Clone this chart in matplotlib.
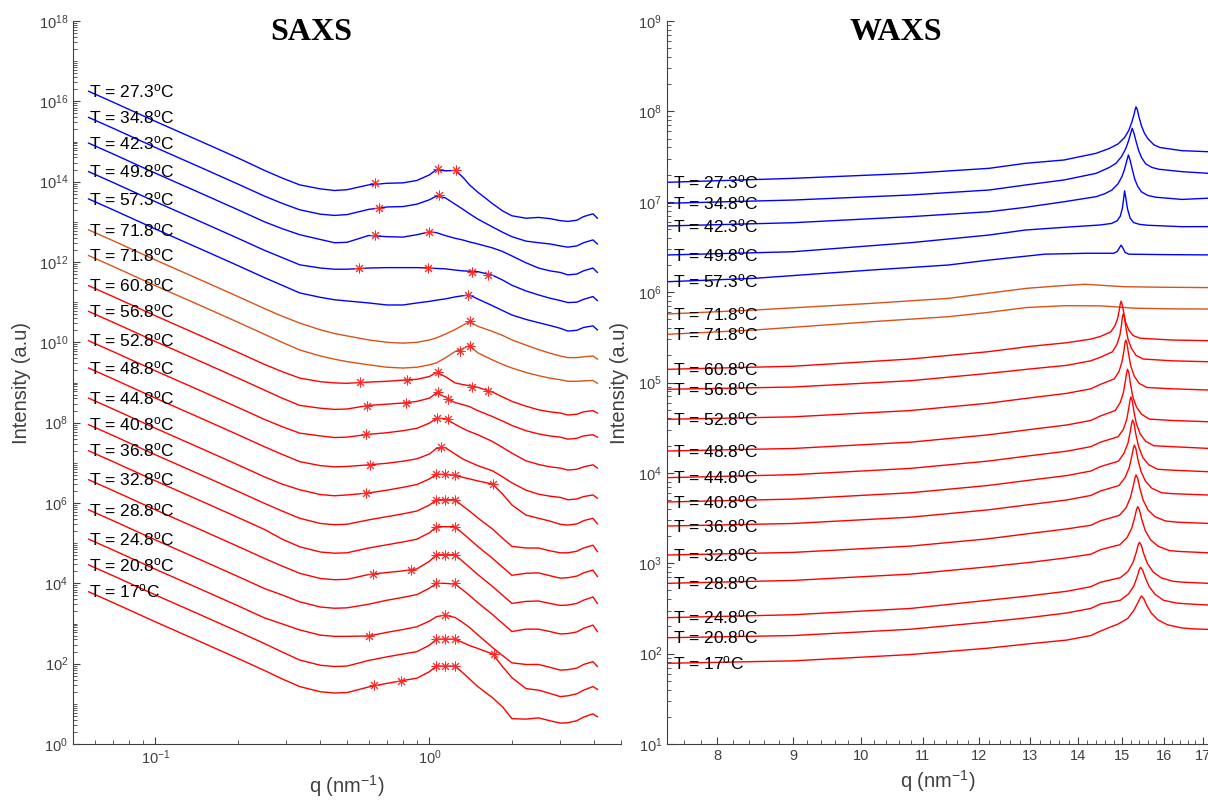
import numpy as np
import matplotlib
matplotlib.use("Agg")
import matplotlib.pyplot as plt
from matplotlib.ticker import FixedLocator, NullFormatter, LogFormatterSciNotation, FormatStrFormatter

plt.rcParams['font.family'] = ['Liberation Sans', 'DejaVu Sans']
plt.rcParams['mathtext.default'] = 'regular'
plt.rcParams['axes.unicode_minus'] = False

# ---------------- labels / colours ----------------
temps = ['27.3', '34.8', '42.3', '49.8', '57.3', '71.8', '71.8', '60.8', '56.8', '52.8',
         '48.8', '44.8', '40.8', '36.8', '32.8', '28.8', '24.8', '20.8', '17']
curve_groups = ['b'] * 5 + ['o'] * 2 + ['r'] * 12
group_colors = {'b': '#0000FF', 'o': '#D95319', 'r': '#FF0000'}

# ---------------- SAXS (log10 intensity on a shared q grid) ----------------
saxs_q = [0.057, 0.07, 0.1, 0.15, 0.2, 0.25, 0.29, 0.336, 0.4, 0.45, 0.5, 0.6, 0.7, 0.8, 0.9, 1.0,
          1.06, 1.14, 1.24, 1.32, 1.4, 1.5, 1.7, 1.85, 2.0, 2.25, 2.5, 2.75, 3.0, 3.2, 3.45, 3.65, 3.95, 4.1]
saxs_T27_3 = [16.25, 15.98, 15.50, 14.97, 14.59, 14.28, 14.09, 13.92, 13.82, 13.78, 13.80, 13.92, 13.96, 13.97, 14.03, 14.17,
              14.30, 14.27, 14.28, 14.12, 13.92, 13.74, 13.45, 13.27, 13.15, 13.09, 13.11, 13.08, 13.03, 13.01, 13.04, 13.13, 13.20, 13.09]
saxs_T34_8 = [15.60, 15.33, 14.85, 14.32, 13.94, 13.64, 13.46, 13.30, 13.19, 13.16, 13.18, 13.31, 13.37, 13.38, 13.44, 13.55,
              13.64, 13.60, 13.44, 13.32, 13.20, 13.07, 12.87, 12.74, 12.63, 12.52, 12.48, 12.45, 12.40, 12.37, 12.40, 12.48, 12.55, 12.45]
saxs_T42_3 = [14.96, 14.69, 14.21, 13.68, 13.30, 13.00, 12.83, 12.68, 12.56, 12.48, 12.49, 12.66, 12.63, 12.62, 12.68, 12.75,
              12.73, 12.66, 12.59, 12.55, 12.50, 12.45, 12.35, 12.26, 12.15, 11.98, 11.85, 11.78, 11.74, 11.68, 11.70, 11.78, 11.85, 11.74]
saxs_T49_8 = [14.25, 13.98, 13.50, 12.97, 12.59, 12.29, 12.11, 11.93, 11.85, 11.82, 11.82, 11.85, 11.86, 11.86, 11.86, 11.85,
              11.84, 11.83, 11.80, 11.78, 11.77, 11.76, 11.67, 11.55, 11.42, 11.28, 11.18, 11.10, 11.04, 10.99, 11.00, 11.07, 11.14, 11.04]
saxs_T57_3 = [13.57, 13.30, 12.82, 12.29, 11.91, 11.61, 11.42, 11.23, 11.12, 11.06, 11.03, 10.98, 10.93, 10.93, 10.98, 11.02,
              11.05, 11.08, 11.13, 11.16, 11.18, 11.08, 10.91, 10.79, 10.68, 10.57, 10.49, 10.42, 10.35, 10.28, 10.30, 10.37, 10.41, 10.31]
saxs_T71_8a = [12.80, 12.53, 12.05, 11.52, 11.14, 10.84, 10.65, 10.48, 10.31, 10.22, 10.16, 10.06, 10.00, 9.98, 10.00, 10.06,
               10.11, 10.20, 10.32, 10.42, 10.52, 10.40, 10.27, 10.17, 10.06, 9.93, 9.82, 9.73, 9.66, 9.62, 9.62, 9.64, 9.66, 9.58]
saxs_T71_8b = [12.16, 11.89, 11.41, 10.88, 10.50, 10.20, 10.00, 9.81, 9.66, 9.58, 9.52, 9.44, 9.38, 9.36, 9.38, 9.44,
               9.49, 9.61, 9.77, 9.84, 9.92, 9.74, 9.56, 9.45, 9.36, 9.25, 9.17, 9.11, 9.07, 9.03, 9.03, 9.04, 9.05, 8.98]
saxs_T60_8 = [11.41, 11.14, 10.66, 10.13, 9.75, 9.45, 9.27, 9.11, 9.02, 8.99, 8.98, 9.01, 9.03, 9.06, 9.08, 9.15,
              9.25, 9.15, 8.99, 8.95, 8.92, 8.88, 8.76, 8.64, 8.53, 8.41, 8.32, 8.27, 8.24, 8.19, 8.21, 8.27, 8.30, 8.24]
saxs_T56_8 = [10.77, 10.50, 10.02, 9.49, 9.11, 8.81, 8.61, 8.43, 8.36, 8.33, 8.34, 8.43, 8.46, 8.49, 8.53, 8.61,
              8.74, 8.64, 8.50, 8.45, 8.40, 8.30, 8.15, 8.04, 7.93, 7.80, 7.72, 7.67, 7.64, 7.59, 7.61, 7.67, 7.70, 7.64]
saxs_T52_8 = [10.04, 9.77, 9.29, 8.76, 8.38, 8.08, 7.90, 7.74, 7.67, 7.63, 7.64, 7.71, 7.75, 7.80, 7.86, 7.99,
              8.11, 8.10, 7.96, 7.86, 7.78, 7.70, 7.53, 7.38, 7.24, 7.05, 6.96, 6.90, 6.87, 6.82, 6.84, 6.90, 6.95, 6.87]
saxs_T48_8 = [9.36, 9.09, 8.61, 8.08, 7.70, 7.40, 7.21, 7.03, 6.93, 6.90, 6.91, 6.95, 6.99, 7.04, 7.10, 7.22,
              7.36, 7.38, 7.22, 7.10, 7.02, 6.93, 6.80, 6.65, 6.50, 6.32, 6.22, 6.17, 6.14, 6.08, 6.10, 6.16, 6.20, 6.12]
saxs_T44_8 = [8.61, 8.34, 7.86, 7.33, 6.95, 6.65, 6.47, 6.33, 6.21, 6.18, 6.20, 6.25, 6.32, 6.39, 6.46, 6.60,
              6.72, 6.71, 6.69, 6.64, 6.60, 6.55, 6.47, 6.22, 5.95, 5.70, 5.62, 5.55, 5.47, 5.45, 5.48, 5.56, 5.62, 5.48]
saxs_T40_8 = [7.95, 7.68, 7.20, 6.67, 6.29, 5.99, 5.80, 5.62, 5.49, 5.46, 5.47, 5.58, 5.66, 5.73, 5.80, 5.95,
              6.08, 6.08, 6.08, 5.93, 5.80, 5.63, 5.35, 5.12, 4.92, 4.88, 4.88, 4.81, 4.76, 4.76, 4.80, 4.88, 4.95, 4.79]
saxs_T36_8 = [7.30, 7.03, 6.55, 6.02, 5.64, 5.34, 5.10, 4.91, 4.78, 4.75, 4.76, 4.88, 4.96, 5.03, 5.10, 5.26,
              5.41, 5.41, 5.41, 5.25, 5.10, 4.92, 4.62, 4.40, 4.20, 4.25, 4.26, 4.19, 4.13, 4.14, 4.18, 4.26, 4.33, 4.17]
saxs_T32_8 = [6.58, 6.31, 5.83, 5.30, 4.92, 4.62, 4.43, 4.25, 4.12, 4.09, 4.10, 4.22, 4.27, 4.31, 4.36, 4.55,
              4.71, 4.71, 4.71, 4.55, 4.40, 4.22, 3.92, 3.70, 3.50, 3.55, 3.56, 3.50, 3.45, 3.46, 3.50, 3.58, 3.66, 3.50]
saxs_T28_8 = [5.83, 5.56, 5.08, 4.55, 4.17, 3.87, 3.71, 3.54, 3.41, 3.38, 3.39, 3.48, 3.58, 3.65, 3.72, 3.88,
              4.00, 4.00, 3.98, 3.84, 3.70, 3.52, 3.22, 3.00, 2.80, 2.86, 2.86, 2.80, 2.74, 2.75, 2.79, 2.88, 2.96, 2.80]
saxs_T24_8 = [5.10, 4.83, 4.35, 3.82, 3.44, 3.14, 2.99, 2.84, 2.71, 2.68, 2.68, 2.69, 2.78, 2.85, 2.92, 3.06,
              3.17, 3.21, 3.15, 3.03, 2.90, 2.72, 2.40, 2.20, 2.02, 1.98, 1.98, 1.91, 1.84, 1.85, 1.89, 1.98, 2.05, 1.93]
saxs_T20_8 = [4.46, 4.19, 3.71, 3.18, 2.80, 2.50, 2.29, 2.09, 1.96, 1.93, 1.94, 2.08, 2.17, 2.24, 2.30, 2.46,
              2.61, 2.61, 2.61, 2.53, 2.45, 2.38, 2.24, 1.92, 1.65, 1.38, 1.34, 1.26, 1.18, 1.20, 1.25, 1.34, 1.43, 1.36]
saxs_T17 = [3.79, 3.52, 3.04, 2.51, 2.13, 1.83, 1.62, 1.43, 1.30, 1.27, 1.28, 1.42, 1.51, 1.58, 1.64, 1.80,
            1.94, 1.94, 1.94, 1.78, 1.62, 1.43, 1.15, 0.92, 0.63, 0.62, 0.65, 0.58, 0.52, 0.53, 0.58, 0.67, 0.75, 0.68]
saxs_curves = [saxs_T27_3, saxs_T34_8, saxs_T42_3, saxs_T49_8, saxs_T57_3, saxs_T71_8a, saxs_T71_8b,
               saxs_T60_8, saxs_T56_8, saxs_T52_8, saxs_T48_8, saxs_T44_8, saxs_T40_8, saxs_T36_8,
               saxs_T32_8, saxs_T28_8, saxs_T24_8, saxs_T20_8, saxs_T17]

# peak markers (q, log10 I) for each SAXS curve
saxs_star_q = [[0.63, 1.074, 1.245], [0.653, 1.083], [0.635, 0.993], [0.553, 0.988, 1.43, 1.64],
               [1.38], [1.40], [1.29, 1.40], [0.557, 0.828, 1.074, 1.43, 1.64],
               [0.592, 0.822, 1.074, 1.168], [0.589, 1.065, 1.168], [0.605, 1.105],
               [0.589, 1.054, 1.142, 1.24, 1.7], [1.054, 1.142, 1.24], [1.054, 1.24],
               [0.62, 0.854, 1.054, 1.142, 1.24], [1.054, 1.24], [0.60, 1.14],
               [1.054, 1.142, 1.24, 1.72], [0.625, 0.787, 1.054, 1.142, 1.24]]
saxs_star_logI = [[13.97, 14.31, 14.28], [13.35, 13.66], [12.68, 12.75], [11.85, 11.85, 11.76, 11.67],
                  [11.19], [10.52], [9.79, 9.92], [9.01, 9.06, 9.27, 8.89, 8.78],
                  [8.42, 8.48, 8.76, 8.60], [7.71, 8.11, 8.09], [6.95, 7.40],
                  [6.24, 6.72, 6.71, 6.69, 6.47], [6.08, 6.08, 6.08], [5.41, 5.41],
                  [4.23, 4.33, 4.71, 4.71, 4.71], [4.00, 4.00], [2.69, 3.21],
                  [2.61, 2.61, 2.61, 2.23], [1.47, 1.57, 1.94, 1.94, 1.94]]

# ---------------- WAXS (q, log10 intensity per curve) ----------------
waxs_q_T27_3 = [7.4, 9.0, 10.8, 12.2, 12.9, 13.7, 14.4, 14.7, 14.9, 15.05, 15.15, 15.22, 15.27, 15.3, 15.32, 15.35, 15.39, 15.45, 15.52, 15.6, 15.75, 15.9, 16.45, 17.13]
waxs_T27_3 = [7.215, 7.259, 7.314, 7.370, 7.425, 7.462, 7.536, 7.59, 7.64, 7.71, 7.79, 7.88, 7.96, 8.02, 8.05, 8.02, 7.94, 7.84, 7.76, 7.70, 7.63, 7.60, 7.565, 7.554]
waxs_q_T34_8 = [7.4, 9.0, 10.8, 12.2, 12.9, 13.7, 14.4, 14.7, 14.85, 14.98, 15.08, 15.14, 15.19, 15.23, 15.27, 15.32, 15.38, 15.45, 15.55, 15.7, 15.87, 16.45, 17.13]
waxs_T34_8 = [6.983, 7.019, 7.075, 7.130, 7.185, 7.241, 7.314, 7.38, 7.425, 7.50, 7.59, 7.67, 7.75, 7.813, 7.76, 7.67, 7.57, 7.49, 7.42, 7.38, 7.36, 7.333, 7.315]
waxs_q_T42_3 = [7.4, 9.0, 10.8, 12.2, 12.9, 13.7, 14.4, 14.6, 14.76, 14.9, 14.99, 15.05, 15.1, 15.14, 15.18, 15.23, 15.29, 15.36, 15.45, 15.6, 15.8, 16.45, 17.13]
waxs_T42_3 = [6.732, 6.768, 6.835, 6.890, 6.938, 7.000, 7.056, 7.09, 7.13, 7.20, 7.28, 7.36, 7.45, 7.518, 7.46, 7.36, 7.25, 7.17, 7.11, 7.07, 7.05, 7.026, 7.039]
waxs_q_T49_8 = [7.4, 9.0, 10.8, 12.2, 12.9, 13.7, 14.49, 14.75, 14.88, 14.95, 15.0, 15.03, 15.05, 15.08, 15.12, 15.18, 15.26, 15.4, 15.6, 16.45, 17.13]
waxs_T49_8 = [6.411, 6.447, 6.547, 6.632, 6.687, 6.717, 6.743, 6.76, 6.79, 6.84, 6.93, 7.04, 7.12, 7.04, 6.92, 6.82, 6.77, 6.75, 6.74, 6.724, 6.725]
waxs_q_T57_3 = [7.4, 8.48, 10.17, 11.45, 12.2, 13.3, 14.2, 14.8, 14.88, 14.93, 14.97, 15.01, 15.06, 15.15, 16.0, 17.13]
waxs_T57_3 = [6.115, 6.153, 6.245, 6.30, 6.355, 6.42, 6.43, 6.43, 6.45, 6.49, 6.52, 6.49, 6.44, 6.42, 6.415, 6.412]
waxs_q_T71_8a = [7.4, 8.48, 10.17, 11.45, 12.17, 12.93, 13.56, 14.15, 15.03, 15.96, 17.13]
waxs_T71_8a = [5.758, 5.802, 5.876, 5.931, 5.987, 6.042, 6.068, 6.087, 6.060, 6.054, 6.050]
waxs_q_T71_8b = [7.4, 8.48, 10.17, 11.45, 12.17, 12.93, 13.73, 14.5, 15.3, 16.2, 17.13]
waxs_T71_8b = [5.533, 5.581, 5.673, 5.728, 5.775, 5.83, 5.850, 5.848, 5.822, 5.815, 5.813]
waxs_q_T60_8 = [7.4, 9.0, 10.8, 12.17, 13.0, 13.76, 14.28, 14.5, 14.73, 14.83, 14.89, 14.93, 14.95, 14.97, 14.99, 15.03, 15.07, 15.15, 15.25, 15.41, 16.2, 17.13]
waxs_T60_8 = [5.146, 5.18, 5.26, 5.34, 5.40, 5.44, 5.48, 5.51, 5.56, 5.63, 5.71, 5.81, 5.87, 5.90, 5.87, 5.78, 5.67, 5.58, 5.52, 5.49, 5.47, 5.463]
waxs_q_T56_8 = [7.4, 9.0, 10.8, 12.17, 13.0, 13.76, 14.28, 14.5, 14.77, 14.87, 14.94, 14.98, 15.0, 15.02, 15.05, 15.08, 15.13, 15.21, 15.32, 15.49, 16.2, 17.13]
waxs_T56_8 = [4.925, 4.95, 5.02, 5.10, 5.15, 5.19, 5.24, 5.28, 5.34, 5.42, 5.52, 5.64, 5.73, 5.758, 5.71, 5.61, 5.48, 5.38, 5.30, 5.26, 5.24, 5.23]
waxs_q_T52_8 = [7.4, 9.0, 10.8, 12.17, 13.0, 13.76, 14.28, 14.5, 14.81, 14.92, 14.99, 15.035, 15.06, 15.08, 15.107, 15.143, 15.197, 15.278, 15.395, 15.58, 16.2, 17.13]
waxs_T52_8 = [4.593, 4.62, 4.69, 4.77, 4.83, 4.88, 4.93, 4.98, 5.04, 5.12, 5.23, 5.35, 5.44, 5.47, 5.43, 5.32, 5.18, 5.07, 4.99, 4.945, 4.93, 4.917]
waxs_q_T48_8 = [7.4, 9.0, 10.8, 12.17, 13.0, 13.76, 14.28, 14.5, 14.835, 14.95, 15.025, 15.07, 15.10, 15.12, 15.15, 15.19, 15.244, 15.33, 15.45, 15.64, 16.2, 17.13]
waxs_T48_8 = [4.242, 4.27, 4.34, 4.42, 4.48, 4.53, 4.58, 4.63, 4.69, 4.78, 4.89, 5.02, 5.11, 5.146, 5.11, 4.98, 4.84, 4.73, 4.65, 4.595, 4.58, 4.566]
waxs_q_T44_8 = [7.4, 9.0, 10.8, 12.17, 13.0, 13.76, 14.28, 14.5, 14.9, 15.02, 15.1, 15.15, 15.18, 15.2, 15.23, 15.27, 15.33, 15.42, 15.55, 15.75, 16.2, 17.13]
waxs_T44_8 = [3.947, 3.98, 4.05, 4.13, 4.19, 4.24, 4.29, 4.34, 4.40, 4.48, 4.59, 4.72, 4.81, 4.84, 4.80, 4.68, 4.54, 4.43, 4.35, 4.30, 4.29, 4.271]
waxs_q_T40_8 = [7.4, 9.0, 10.8, 12.17, 13.0, 13.76, 14.28, 14.5, 14.91, 15.04, 15.13, 15.185, 15.218, 15.24, 15.273, 15.317, 15.383, 15.482, 15.625, 15.84, 16.2, 17.13]
waxs_T40_8 = [3.678, 3.71, 3.78, 3.86, 3.92, 3.97, 4.02, 4.07, 4.13, 4.22, 4.33, 4.46, 4.55, 4.585, 4.545, 4.425, 4.29, 4.17, 4.09, 4.04, 4.03, 4.013]
waxs_q_T36_8 = [7.4, 9.0, 10.8, 12.17, 13.0, 13.76, 14.28, 14.5, 14.92, 15.064, 15.16, 15.22, 15.256, 15.28, 15.316, 15.364, 15.436, 15.544, 15.70, 15.94, 16.2, 17.13]
waxs_T36_8 = [3.412, 3.44, 3.51, 3.59, 3.65, 3.70, 3.75, 3.80, 3.86, 3.95, 4.06, 4.185, 4.27, 4.308, 4.27, 4.15, 4.02, 3.91, 3.83, 3.78, 3.77, 3.755]
waxs_q_T32_8 = [7.4, 9.0, 10.8, 12.17, 13.0, 13.76, 14.28, 14.5, 14.93, 15.086, 15.19, 15.255, 15.294, 15.32, 15.359, 15.411, 15.489, 15.606, 15.775, 16.035, 16.3, 17.13]
waxs_T32_8 = [3.091, 3.12, 3.19, 3.27, 3.33, 3.38, 3.42, 3.47, 3.53, 3.615, 3.73, 3.855, 3.94, 3.977, 3.94, 3.83, 3.70, 3.59, 3.516, 3.468, 3.455, 3.441]
waxs_q_T28_8 = [7.4, 9.0, 10.8, 12.17, 13.0, 13.76, 14.28, 14.5, 14.94, 15.108, 15.22, 15.29, 15.332, 15.36, 15.402, 15.458, 15.542, 15.668, 15.85, 16.13, 16.4, 17.13]
waxs_T28_8 = [2.778, 2.81, 2.88, 2.96, 3.01, 3.06, 3.10, 3.15, 3.205, 3.284, 3.39, 3.51, 3.595, 3.626, 3.59, 3.483, 3.36, 3.26, 3.19, 3.14, 3.13, 3.116]
waxs_q_T24_8 = [7.4, 9.0, 10.8, 12.17, 13.0, 13.76, 14.28, 14.5, 14.95, 15.13, 15.25, 15.325, 15.37, 15.40, 15.445, 15.505, 15.595, 15.73, 15.925, 16.225, 16.5, 17.13]
waxs_T24_8 = [2.398, 2.43, 2.50, 2.59, 2.64, 2.69, 2.74, 2.79, 2.84, 2.91, 3.01, 3.12, 3.20, 3.232, 3.20, 3.105, 2.995, 2.905, 2.84, 2.80, 2.79, 2.778]
waxs_q_T20_8 = [7.4, 9.0, 10.8, 12.17, 13.0, 13.76, 14.28, 14.5, 14.95, 15.142, 15.27, 15.35, 15.398, 15.43, 15.478, 15.542, 15.638, 15.782, 15.99, 16.31, 16.6, 17.13]
waxs_T20_8 = [2.176, 2.20, 2.27, 2.35, 2.40, 2.45, 2.50, 2.55, 2.59, 2.66, 2.75, 2.855, 2.93, 2.955, 2.925, 2.84, 2.74, 2.655, 2.59, 2.56, 2.55, 2.538]
waxs_q_T17 = [7.4, 9.0, 10.8, 12.17, 13.0, 13.76, 14.28, 14.5, 14.91, 15.126, 15.27, 15.36, 15.414, 15.45, 15.504, 15.576, 15.684, 15.846, 16.08, 16.44, 16.7, 17.13]
waxs_T17 = [1.893, 1.92, 1.99, 2.06, 2.11, 2.15, 2.20, 2.25, 2.33, 2.39, 2.48, 2.56, 2.61, 2.638, 2.61, 2.535, 2.45, 2.375, 2.32, 2.285, 2.275, 2.268]

waxs_q_list = [waxs_q_T27_3, waxs_q_T34_8, waxs_q_T42_3, waxs_q_T49_8, waxs_q_T57_3, waxs_q_T71_8a,
               waxs_q_T71_8b, waxs_q_T60_8, waxs_q_T56_8, waxs_q_T52_8, waxs_q_T48_8, waxs_q_T44_8,
               waxs_q_T40_8, waxs_q_T36_8, waxs_q_T32_8, waxs_q_T28_8, waxs_q_T24_8, waxs_q_T20_8, waxs_q_T17]
waxs_curves = [waxs_T27_3, waxs_T34_8, waxs_T42_3, waxs_T49_8, waxs_T57_3, waxs_T71_8a, waxs_T71_8b,
               waxs_T60_8, waxs_T56_8, waxs_T52_8, waxs_T48_8, waxs_T44_8, waxs_T40_8, waxs_T36_8,
               waxs_T32_8, waxs_T28_8, waxs_T24_8, waxs_T20_8, waxs_T17]

saxs_major_y = [1e0, 1e2, 1e4, 1e6, 1e8, 1e10, 1e12, 1e14, 1e16, 1e18]
waxs_major_y = [1e1, 1e2, 1e3, 1e4, 1e5, 1e6, 1e7, 1e8, 1e9]
waxs_major_x = [8, 9, 10, 11, 12, 13, 14, 15, 16, 17]

# ---------------- figure ----------------
W, H = 1208, 802
fig = plt.figure(figsize=(W / 100, H / 100), dpi=100)
ax1 = fig.add_axes([73 / W, (H - 744) / H, 548 / W, 723 / H])
ax2 = fig.add_axes([667 / W, (H - 744) / H, 541 / W, 723 / H])

axis_col = '#404040'


def style_axes(ax):
    for s in ['top', 'right']:
        ax.spines[s].set_visible(False)
    for s in ['left', 'bottom']:
        ax.spines[s].set_color(axis_col)
        ax.spines[s].set_linewidth(0.8)
    ax.tick_params(which='both', direction='in', colors=axis_col, labelsize=10.5,
                   labelcolor=axis_col)
    ax.tick_params(which='major', length=5, width=0.8)
    ax.tick_params(which='minor', length=3, width=0.6)


def minor_log(lo_exp, hi_exp):
    vals = []
    for e in range(lo_exp, hi_exp):
        for k in range(1, 10):
            vals.append(k * 10.0 ** e)
    return vals


lw = 1.0

# SAXS
for i, (vals, grp) in enumerate(zip(saxs_curves, curve_groups)):
    col = group_colors[grp]
    ax1.plot(saxs_q, 10 ** np.array(vals), color=col, lw=lw, zorder=2)
    ax1.plot(saxs_star_q[i], 10 ** np.array(saxs_star_logI[i]), linestyle='none',
             marker=(8, 2, 0), markersize=7, markeredgewidth=0.7, color='#FF2A2A', zorder=3)
    ax1.text(saxs_q[0], 10 ** vals[0], 'T = %s$^{o}$C' % temps[i], fontsize=12.5,
             ha='left', va='center', color='black', zorder=4)

ax1.set_xscale('log')
ax1.set_yscale('log')
ax1.set_xlim(0.05, 5)
ax1.set_ylim(1, 1e18)
ax1.yaxis.set_major_locator(FixedLocator(saxs_major_y))
ax1.yaxis.set_minor_locator(FixedLocator([v for v in minor_log(0, 18) if v not in saxs_major_y]))
ax1.yaxis.set_major_formatter(LogFormatterSciNotation())
ax1.yaxis.set_minor_formatter(NullFormatter())
ax1.xaxis.set_major_locator(FixedLocator([0.1, 1.0]))
ax1.xaxis.set_minor_locator(FixedLocator([v for v in minor_log(-2, 1) if 0.05 <= v <= 5 and v not in (0.1, 1.0)]))
ax1.xaxis.set_major_formatter(LogFormatterSciNotation())
ax1.xaxis.set_minor_formatter(NullFormatter())
style_axes(ax1)
ax1.set_xlabel('q (nm$^{-1}$)', fontsize=14.5, color=axis_col, labelpad=4)
ax1.set_ylabel('Intensity (a.u)', fontsize=14.5, color=axis_col)
ax1.yaxis.set_label_coords(-0.076, 0.5)

# WAXS
for i, (qs, vals, grp) in enumerate(zip(waxs_q_list, waxs_curves, curve_groups)):
    col = group_colors[grp]
    ax2.plot(qs, 10 ** np.array(vals), color=col, lw=lw, zorder=2)
    ax2.text(7.47, 10 ** vals[0], 'T = %s$^{o}$C' % temps[i], fontsize=12.5,
             ha='left', va='center', color='black', zorder=4)

ax2.set_xscale('log')
ax2.set_yscale('log')
ax2.set_xlim(7.4, 17.13)
ax2.set_ylim(10, 1e9)
ax2.yaxis.set_major_locator(FixedLocator(waxs_major_y))
ax2.yaxis.set_minor_locator(FixedLocator([v for v in minor_log(1, 9) if v not in waxs_major_y]))
ax2.yaxis.set_major_formatter(LogFormatterSciNotation())
ax2.yaxis.set_minor_formatter(NullFormatter())
ax2.xaxis.set_major_locator(FixedLocator(waxs_major_x))
ax2.xaxis.set_minor_locator(FixedLocator([round(7.4 + 0.2 * k, 1) for k in range(0, 50)
                                          if round(7.4 + 0.2 * k, 1) not in waxs_major_x]))
ax2.xaxis.set_major_formatter(FormatStrFormatter('%d'))
ax2.xaxis.set_minor_formatter(NullFormatter())
style_axes(ax2)
ax2.set_xlabel('q (nm$^{-1}$)', fontsize=14.5, color=axis_col, labelpad=4)
ax2.set_ylabel('Intensity (a.u)', fontsize=14.5, color=axis_col)
ax2.yaxis.set_label_coords(-0.071, 0.5)

fig.text(311 / W, 1 - 33 / H, 'SAXS', fontsize=23, fontweight='bold',
         family='Liberation Serif', ha='center', va='center', color='black')
fig.text(896 / W, 1 - 33 / H, 'WAXS', fontsize=23, fontweight='bold',
         family='Liberation Serif', ha='center', va='center', color='black')

fig.savefig('out.png', dpi=100)
